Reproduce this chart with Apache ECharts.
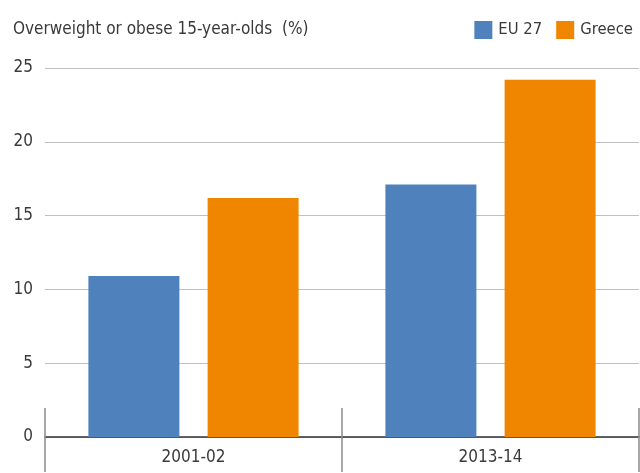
<!DOCTYPE html>
<html><head><meta charset="utf-8">
<script src="https://cdn.jsdelivr.net/npm/echarts@6/dist/echarts.min.js"></script>
<style>html,body{margin:0;padding:0;background:#fff}#c{width:640px;height:473px}</style>
</head><body><div id="c"></div>
<script>
const categories = ["2001-02", "2013-14"];
const euValues = [10.9, 17.1];
const greeceValues = [16.2, 24.2];
const seriesNames = ["EU 27", "Greece"];
const titleText = "Overweight or obese 15-year-olds  (%)";

const FONT = "'Liberation Sans Narrow', 'DejaVu Sans Condensed', sans-serif";
const chart = echarts.init(document.getElementById('c'), null, {renderer: 'canvas'});
chart.setOption({
  animation: false,
  title: {text: titleText, left: 8, top: 16, textStyle: {fontFamily: FONT, fontSize: 17, fontWeight: 'normal', color: '#3a3a3a'}},
  legend: {right: 2, top: 16, itemWidth: 18, itemHeight: 18, itemGap: 14,
    textStyle: {fontFamily: FONT, fontSize: 16.5, color: '#3a3a3a', padding: [0,0,0,1]},
    data: seriesNames, icon: 'rect'},
  grid: {left: 45, right: 1, top: 68, bottom: 36, containLabel: false},
  xAxis: [{type: 'category', data: categories,
    axisLine: {lineStyle: {color: '#333', width: 1.5}},
    axisTick: {show: true, length: 35, lineStyle: {color: '#8a8a8a', width: 1.5}},
    axisLabel: {fontFamily: FONT, fontSize: 17, color: '#3a3a3a', margin: 12},
    splitLine: {show: false}},
   {type: 'category', data: categories, position: 'bottom',
    axisLine: {show: false},
    axisTick: {show: true, inside: true, length: 29, lineStyle: {color: '#8a8a8a', width: 1.5}},
    axisLabel: {show: false}}],
  yAxis: {type: 'value', min: 0, max: 25, interval: 5,
    axisLine: {show: false}, axisTick: {show: false},
    axisLabel: {fontFamily: FONT, fontSize: 17, color: '#3a3a3a', margin: 12},
    splitLine: {lineStyle: {color: '#c0c0c0', width: 1}}},
  series: [
    {name: seriesNames[0], type: 'bar', data: euValues, itemStyle: {color: '#4f81bd'}, barWidth: 91, barGap: '31%'},
    {name: seriesNames[1], type: 'bar', data: greeceValues, itemStyle: {color: '#f08500'}, barWidth: 91, barGap: '31%'}
  ]
});
</script></body></html>
